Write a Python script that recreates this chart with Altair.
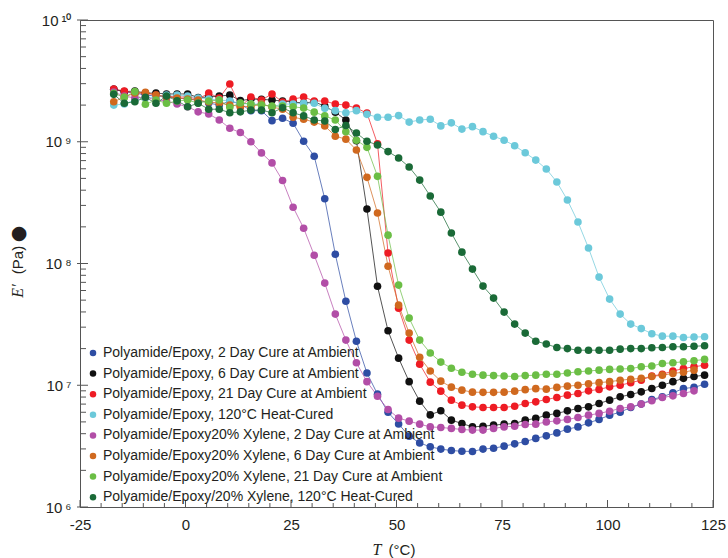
import altair as alt
import pandas as pd

# ---------------- data ----------------
temps = [-17, -14.5, -12, -9.5, -7, -4.5, -2, 0.5, 3, 5.5,
         8, 10.5, 13, 15.5, 18, 20.5, 23, 25.5, 28, 30.5,
         33, 35.5, 38, 40.5, 43, 45.5, 48, 50.5, 53, 55.5,
         58, 60.5, 63, 65.5, 68, 70.5, 73, 75.5, 78, 80.5,
         83, 85.5, 88, 90.5, 93, 95.5, 98, 100.5, 103, 105.5,
         108, 110.5, 113, 115.5, 118, 120.5, 123]

pe_2day = [2.7e9, 2.56e9, 2.51e9, 2.42e9, 2.37e9, 2.33e9, 2.29e9, 2.24e9, 2.2e9, 2.08e9,
           2.0e9, 2.16e9, 2.04e9, 1.8e9, 1.8e9, 1.49e9, 1.56e9, 1.42e9, 1.01e9, 7.6e8,
           3.4e8, 1.19e8, 4.9e7, 2.3e7, 1.26e7, 8.45e6, 6.0e6, 4.8e6, 3.82e6, 3.36e6,
           3.12e6, 2.99e6, 2.91e6, 2.87e6, 2.86e6, 2.99e6, 3.04e6, 3.16e6, 3.3e6, 3.45e6,
           3.66e6, 3.84e6, 4.06e6, 4.36e6, 4.55e6, 4.91e6, 5.24e6, 5.68e6, 6.01e6, 6.57e6,
           7.0e6, 7.64e6, 8.03e6, 8.66e6, 9.41e6, 9.6e6, 1.02e7]

pe_6day = [2.7e9, 2.58e9, 2.61e9, 2.51e9, 2.51e9, 2.47e9, 2.47e9, 2.47e9, 2.31e9, 2.33e9,
           2.37e9, 2.42e9, 2.18e9, 2.24e9, 2.23e9, 2.2e9, 2.16e9, 2.12e9, 2.08e9, 2.13e9,
           1.96e9, 1.75e9, 1.51e9, 1.02e9, 2.8e8, 6.5e7, 2.8e7, 1.67e7, 1.07e7, 7.4e6,
           5.71e6, 6.18e6, 5.17e6, 4.85e6, 4.55e6, 4.61e6, 4.7e6, 4.79e6, 4.85e6, 5.17e6,
           5.34e6, 5.68e6, 5.87e6, 6.16e6, 6.45e6, 6.65e6, 7.09e6, 7.54e6, 8.03e6, 8.4e6,
           8.83e6, 9.41e6, 1.0e7, 1.07e7, 1.14e7, 1.18e7, 1.21e7]

pe_21day = [2.71e9, 2.61e9, 2.51e9, 2.51e9, 2.42e9, 2.37e9, 2.33e9, 2.33e9, 2.24e9, 2.51e9,
            2.29e9, 2.98e9, 1.93e9, 2.33e9, 2.2e9, 2.47e9, 2.12e9, 2.24e9, 2.33e9, 2.16e9,
            2.16e9, 2.04e9, 2.0e9, 1.89e9, 1.72e9, 9.6e8, 1.22e8, 4.3e7, 2.35e7, 1.49e7,
            1.06e7, 8.94e6, 7.54e6, 6.86e6, 6.65e6, 6.57e6, 6.57e6, 6.57e6, 6.73e6, 7.09e6,
            7.31e6, 7.64e6, 7.94e6, 8.29e6, 8.56e6, 9.0e6, 9.24e6, 9.7e6, 1.0e7, 1.05e7,
            1.1e7, 1.19e7, 1.23e7, 1.31e7, 1.37e7, 1.42e7, 1.46e7]

pe_heat = [2.0e9, 2.04e9, 2.2e9, 2.29e9, 2.33e9, 2.42e9, 2.42e9, 2.37e9, 2.29e9, 2.24e9,
           2.2e9, 2.16e9, 2.07e9, 2.04e9, 2.04e9, 1.94e9, 2.04e9, 2.04e9, 2.07e9, 2.07e9,
           1.88e9, 1.8e9, 1.73e9, 1.8e9, 1.68e9, 1.59e9, 1.59e9, 1.64e9, 1.45e9, 1.51e9,
           1.53e9, 1.35e9, 1.43e9, 1.27e9, 1.33e9, 1.21e9, 1.11e9, 1.03e9, 9.27e8, 8.12e8,
           7.07e8, 5.97e8, 4.67e8, 3.32e8, 2.19e8, 1.34e8, 7.73e7, 5.1e7, 3.84e7, 3.18e7,
           2.92e7, 2.65e7, 2.53e7, 2.53e7, 2.47e7, 2.49e7, 2.5e7]

px_2day = [2.56e9, 2.37e9, 2.29e9, 2.33e9, 2.2e9, 2.16e9, 2.04e9, 1.94e9, 1.76e9, 1.69e9,
           1.51e9, 1.29e9, 1.19e9, 1.0e9, 8.1e8, 6.7e8, 4.8e8, 2.9e8, 1.95e8, 1.17e8,
           6.9e7, 3.84e7, 2.35e7, 1.53e7, 1.07e7, 8.13e6, 6.32e6, 5.37e6, 5.07e6, 4.79e6,
           4.55e6, 4.5e6, 4.42e6, 4.33e6, 4.28e6, 4.28e6, 4.42e6, 4.55e6, 4.61e6, 4.76e6,
           4.79e6, 5.0e6, 5.1e6, 5.24e6, 5.44e6, 5.68e6, 5.87e6, 6.12e6, 6.45e6, 6.65e6,
           7.0e6, 7.45e6, 7.94e6, 8.18e6, 8.56e6, 9.0e6]

px_6day = [2.13e9, 2.33e9, 2.51e9, 2.55e9, 2.42e9, 2.33e9, 2.29e9, 2.24e9, 2.2e9, 2.12e9,
           2.08e9, 2.0e9, 1.96e9, 1.94e9, 2.04e9, 1.93e9, 1.85e9, 1.59e9, 1.53e9, 1.45e9,
           1.35e9, 1.11e9, 1.05e9, 8.55e8, 5.1e8, 2.6e8, 9.5e7, 4.55e7, 2.68e7, 1.7e7,
           1.31e7, 1.08e7, 9.65e6, 9.11e6, 8.78e6, 8.74e6, 8.74e6, 8.78e6, 8.94e6, 9.2e6,
           9.38e6, 9.29e6, 9.6e6, 9.83e6, 1.0e7, 1.03e7, 1.05e7, 1.07e7, 1.1e7, 1.12e7,
           1.14e7, 1.18e7, 1.21e7, 1.25e7, 1.28e7, 1.33e7]

px_21day = [2.5e9, 2.32e9, 2.58e9, 2.03e9, 2.2e9, 2.07e9, 2.16e9, 2.2e9, 2.08e9, 2.16e9,
            2.2e9, 1.92e9, 2.08e9, 2.04e9, 2.0e9, 1.96e9, 1.96e9, 1.94e9, 1.89e9, 1.75e9,
            1.63e9, 1.51e9, 1.21e9, 1.03e9, 9.0e8, 5.2e8, 1.71e8, 6.65e7, 3.56e7, 2.35e7,
            1.84e7, 1.55e7, 1.38e7, 1.28e7, 1.23e7, 1.21e7, 1.2e7, 1.19e7, 1.18e7, 1.2e7,
            1.21e7, 1.23e7, 1.23e7, 1.26e7, 1.29e7, 1.31e7, 1.33e7, 1.35e7, 1.36e7, 1.37e7,
            1.42e7, 1.44e7, 1.51e7, 1.53e7, 1.56e7, 1.59e7, 1.63e7]

px_heat = [2.45e9, 2.07e9, 2.13e9, 2.32e9, 2.07e9, 2.37e9, 2.17e9, 1.94e9, 2.07e9, 1.85e9,
           1.85e9, 1.73e9, 1.76e9, 1.82e9, 1.82e9, 1.73e9, 1.9e9, 1.73e9, 1.63e9, 1.51e9,
           1.48e9, 1.26e9, 1.36e9, 1.18e9, 1.01e9, 9.4e8, 8.3e8, 7.35e8, 6.2e8, 4.84e8,
           3.58e8, 2.64e8, 1.78e8, 1.24e8, 9.0e7, 6.52e7, 5.2e7, 3.99e7, 3.18e7, 2.68e7,
           2.3e7, 2.18e7, 2.04e7, 2.0e7, 1.94e7, 1.94e7, 1.94e7, 1.94e7, 1.98e7, 2.0e7,
           2.0e7, 2.03e7, 2.04e7, 2.07e7, 2.07e7, 2.09e7, 2.11e7]

series_names = [
    "Polyamide/Epoxy, 2 Day Cure at Ambient",
    "Polyamide/Epoxy, 6 Day Cure at Ambient",
    "Polyamide/Epoxy, 21 Day Cure at Ambient",
    "Polyamide/Epoxy, 120°C Heat-Cured",
    "Polyamide/Epoxy20% Xylene, 2 Day Cure at Ambient",
    "Polyamide/Epoxy20% Xylene, 6 Day Cure at Ambient",
    "Polyamide/Epoxy20% Xylene, 21 Day Cure at Ambient",
    "Polyamide/Epoxy/20% Xylene, 120°C Heat-Cured",
]
series_values = [pe_2day, pe_6day, pe_21day, pe_heat, px_2day, px_6day, px_21day, px_heat]
colors = ["#2E4DA3", "#111111", "#EE1C24", "#6CC9DA",
          "#B24EA7", "#D0691F", "#6BBE45", "#1A6A37"]

x_tick_labels = [-25, 0, 25, 50, 75, 100, 125]
y_tick_values = [1e6, 1e7, 1e8, 1e9, 1e10]

# ---------------- build table ----------------
rows = []
for k, (name, vals) in enumerate(zip(series_names, series_values)):
    for t, e in zip(temps, vals):
        rows.append({"series": name, "T": t, "E": e, "k": k})
df = pd.DataFrame(rows)

W, H = 633, 487
AXC = "#555555"
TXT = "#231F20"
xscale = alt.Scale(domain=[-25, 125], nice=False, zero=False)
yscale = alt.Scale(type="log", domain=[1e6, 1e10], nice=False)
cscale = alt.Scale(domain=series_names, range=colors)

yexpr = ("'10' + (round(log(datum.value)/LN10) == 10 ? '\u2009¹⁰' : "
         "round(log(datum.value)/LN10) == 9 ? '\u2009⁹' : "
         "round(log(datum.value)/LN10) == 8 ? '\u2009⁸' : "
         "round(log(datum.value)/LN10) == 7 ? '\u2009⁷' : '\u2009⁶')")

xaxis = alt.Axis(values=x_tick_labels, ticks=False, grid=False, title=None,
                 labelExpr="'' + datum.value", labelFont="Liberation Sans",
                 labelFontSize=15, labelColor=TXT, labelPadding=10,
                 domainColor=AXC, labelFlush=False)
yaxis = alt.Axis(values=y_tick_values, ticks=False, grid=False, title=None,
                 labelExpr=yexpr, labelFont="Liberation Sans", labelFontSize=15,
                 labelColor=TXT, labelPadding=9, domainColor=AXC, labelFlush=False)
legend = alt.Legend(orient="none", legendX=6, legendY=326, title=None,
                    labelFont="Liberation Sans", labelFontSize=14,
                    labelColor=TXT, symbolType="circle", symbolSize=42,
                    symbolStrokeWidth=0, symbolOpacity=1, rowPadding=6.6,
                    labelLimit=600, padding=0, labelOffset=3)

base = alt.Chart(df)

lines = base.mark_line(strokeWidth=0.9, opacity=0.8).encode(
    x=alt.X("T:Q", scale=xscale, axis=xaxis),
    y=alt.Y("E:Q", scale=yscale, axis=yaxis),
    color=alt.Color("series:N", scale=cscale, legend=legend),
    detail="series:N",
    order="T:Q",
)

points = base.mark_circle(size=58, opacity=1).encode(
    x=alt.X("T:Q", scale=xscale, axis=xaxis),
    y=alt.Y("E:Q", scale=yscale, axis=yaxis),
    color=alt.Color("series:N", scale=cscale, legend=legend),
)

# inward tick marks
x_minor = pd.DataFrame({"v": [v for v in range(-20, 125, 5) if v % 25 != 0]})
x_major = pd.DataFrame({"v": x_tick_labels})
y_minor = pd.DataFrame({"v": [m * 10 ** p for p in range(6, 10) for m in range(2, 10)]})
y_major = pd.DataFrame({"v": y_tick_values})

xt_minor = alt.Chart(x_minor).mark_rule(color=AXC, strokeWidth=1).encode(
    x=alt.X("v:Q", scale=xscale, axis=xaxis), y=alt.value(H), y2=alt.value(H - 4))
xt_major = alt.Chart(x_major).mark_rule(color=AXC, strokeWidth=1).encode(
    x=alt.X("v:Q", scale=xscale, axis=xaxis), y=alt.value(H), y2=alt.value(H - 7))
yt_minor = alt.Chart(y_minor).mark_rule(color=AXC, strokeWidth=1).encode(
    y=alt.Y("v:Q", scale=yscale, axis=yaxis), x=alt.value(0), x2=alt.value(6))
yt_major = alt.Chart(y_major).mark_rule(color=AXC, strokeWidth=1).encode(
    y=alt.Y("v:Q", scale=yscale, axis=yaxis), x=alt.value(-3), x2=alt.value(8))

# axis titles (mixed italic / upright)
one = pd.DataFrame({"a": [0]})
def label(text, x, y, size, font="Liberation Sans", style="normal", angle=0):
    return alt.Chart(one).mark_text(text=text, font=font, fontStyle=style, fontSize=size,
                                    angle=angle, align="center", baseline="middle",
                                    color=TXT).encode(x=alt.value(x), y=alt.value(y))

t_T = label("T", 297, 530, 16, font="Liberation Serif", style="italic")
t_C = label("(°C)", 322, 530, 15)
t_E = label("E′", -62.5, 271, 16, font="Liberation Serif", style="italic", angle=270)
t_Pa = label("(Pa)", -62.5, 240, 15, angle=270)
t_dot = label("●", -62.5, 214, 19, font="DejaVu Sans", angle=270)

chart = alt.layer(
    xt_minor, xt_major, yt_minor, yt_major, lines, points, t_T, t_C, t_E, t_Pa, t_dot
).properties(
    width=W, height=H,
    padding={"left": 80, "top": 20, "right": 15, "bottom": 51},
    autosize=alt.AutoSizeParams(type="none"),
    background="white",
).configure_view(stroke=AXC, strokeWidth=1)

chart.save("out.html", embed_options={"renderer": "svg", "actions": False})
